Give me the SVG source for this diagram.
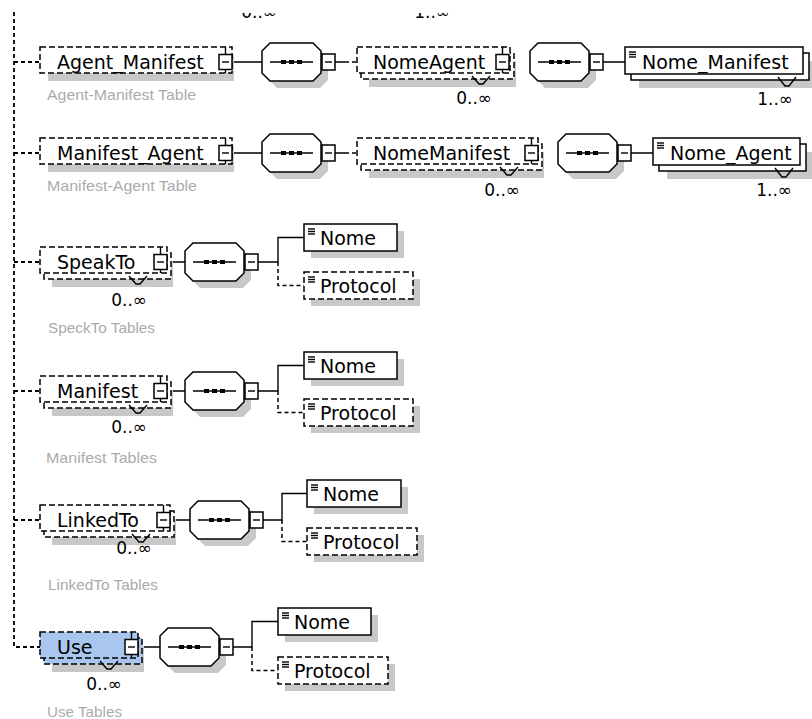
<svg xmlns="http://www.w3.org/2000/svg" xmlns:xlink="http://www.w3.org/1999/xlink" width="812" height="719" viewBox="0 0 812 719">
<style>
  .sh{fill:#c8c8c8}
  .bx{fill:#fff;stroke:#000;stroke-width:1.5}
  .bxd{fill:#fff;stroke:#000;stroke-width:1.5;stroke-dasharray:6 3}
  .sel{fill:#a9c7ee}
  .ln{fill:none;stroke:#000;stroke-width:1.4}
  .lnd{fill:none;stroke:#000;stroke-width:1.5;stroke-dasharray:4 3}
  .trunk{fill:none;stroke:#000;stroke-width:1.8;stroke-dasharray:4 3}
  .lbl{font-family:"DejaVu Sans",Verdana,sans-serif;font-size:19px;fill:#000}
  .mult{font-family:"DejaVu Sans",Verdana,sans-serif;font-size:17px;fill:#000;text-anchor:end}
  .desc{font-family:"Liberation Sans",Arial,sans-serif;font-size:15px;fill:#ababab}
</style>
<defs>
  <!-- sequence compositor with its collapse button, origin at left edge / centre line -->
  <g id="seq">
    <polygon class="sh" points="15,-12 58,-12 66,-4 66,18 58,26 15,26 7,18 7,-4"/>
    <polygon class="bx" points="8,-19 51,-19 59,-11 59,11 51,19 8,19 0,11 0,-11"/>
    <line class="ln" x1="8" y1="0" x2="51" y2="0"/>
    <rect x="19" y="-2" width="5" height="4"/>
    <rect x="27" y="-2" width="5" height="4"/>
    <rect x="35" y="-2" width="5" height="4"/>
    <rect class="bx" x="60" y="-8" width="13" height="16"/>
    <line class="ln" x1="63" y1="0" x2="70" y2="0"/>
  </g>
  <!-- collapse button on an element box -->
  <g id="mb">
    <line class="ln" x1="6.5" y1="-15" x2="6.5" y2="11"/>
    <rect class="bx" x="0" y="-7.5" width="13" height="15"/>
    <line class="ln" x1="3" y1="0" x2="10" y2="0"/>
  </g>
  <!-- simple-content marker -->
  <g id="eq">
    <line class="ln" x1="0" y1="0" x2="7" y2="0" stroke-width="1.2"/>
    <line class="ln" x1="0" y1="2.5" x2="7" y2="2.5" stroke-width="1.2"/>
    <line class="ln" x1="0" y1="5" x2="7" y2="5" stroke-width="1.2"/>
  </g>
  <clipPath id="topcut"><rect x="0" y="13" width="812" height="30"/></clipPath>
</defs>

<!-- connectors -->
<g id="connectors">
  <path class="trunk" d="M14,12 V647 H40"/>
  <path class="trunk" d="M14,62 H40 M14,153 H40 M14,262 H40 M14,391 H40 M14,520 H40"/>
  <!-- row 1 -->
  <path class="ln" d="M232,62 H262 M335,62 H345 M603,62 H625"/>
  <path class="lnd" d="M345,62 H357"/>
  <!-- row 2 -->
  <path class="ln" d="M232,153 H262 M335,153 H345 M631,153 H653"/>
  <path class="lnd" d="M345,153 H357"/>
  <!-- row 3 -->
  <path class="ln" d="M167,262 H185 M258,262 H278 V237.5 H304"/>
  <path class="lnd" d="M278,262 V285.5 H304"/>
  <!-- row 4 -->
  <path class="ln" d="M167,391 H185 M258,391 H278 V365.5 H304"/>
  <path class="lnd" d="M278,391 V412.5 H304"/>
  <!-- row 5 -->
  <path class="ln" d="M170,520 H190 M263,520 H282 V493.5 H307"/>
  <path class="lnd" d="M282,520 V541.5 H307"/>
  <!-- row 6 -->
  <path class="ln" d="M138,647 H160 M233,647 H252 V621.5 H278"/>
  <path class="lnd" d="M252,647 V670.5 H278"/>
</g>

<!-- occurrence labels of the rows above, cut by the top edge -->
<g id="above" clip-path="url(#topcut)">
  <text class="mult" x="277" y="18">0..∞</text>
  <text class="mult" x="450" y="18">1..∞</text>
</g>

<!-- compositors -->
<g id="sequences">
  <use xlink:href="#seq" x="262" y="62"/>
  <use xlink:href="#seq" x="530" y="62"/>
  <use xlink:href="#seq" x="262" y="153"/>
  <use xlink:href="#seq" x="558" y="153"/>
  <use xlink:href="#seq" x="185" y="262"/>
  <use xlink:href="#seq" x="185" y="391"/>
  <use xlink:href="#seq" x="190" y="520"/>
  <use xlink:href="#seq" x="160" y="647"/>
</g>

<!-- row 1 -->
<g id="agent-manifest">
  <rect class="sh" x="48" y="55" width="186" height="26"/>
  <rect class="bxd" x="40" y="47" width="192" height="26"/>
  <use xlink:href="#mb" x="219" y="62"/>
  <text class="lbl" x="57" y="69">Agent_Manifest</text>
  <text class="desc" x="47" y="100" textLength="149" lengthAdjust="spacingAndGlyphs">Agent-Manifest Table</text>
</g>
<g id="nome-agent">
  <rect class="sh" x="369" y="61" width="147" height="26"/>
  <rect class="bxd" x="361" y="53" width="153" height="26"/>
  <rect class="bxd" x="357" y="47" width="153" height="26"/>
  <use xlink:href="#mb" x="496" y="62"/>
  <polyline class="ln" points="472,76 479,84 483,84 490,76"/>
  <text class="lbl" x="373" y="69">NomeAgent</text>
  <text class="mult" x="492" y="104">0..∞</text>
</g>
<g id="nome-manifest-1">
  <rect class="sh" x="639" y="61" width="178" height="27"/>
  <rect class="bx" x="631" y="53" width="178" height="27"/>
  <rect class="bx" x="625" y="47" width="178" height="27"/>
  <polyline class="ln" points="778,77 785,86 789,86 796,77"/>
  <use xlink:href="#eq" x="629" y="52"/>
  <text class="lbl" x="642" y="69">Nome_Manifest</text>
  <text class="mult" x="793" y="105">1..∞</text>
</g>

<!-- row 2 -->
<g id="manifest-agent">
  <rect class="sh" x="48" y="146" width="186" height="26"/>
  <rect class="bxd" x="40" y="138" width="192" height="26"/>
  <use xlink:href="#mb" x="219" y="153"/>
  <text class="lbl" x="57" y="160">Manifest_Agent</text>
  <text class="desc" x="47" y="191" textLength="150" lengthAdjust="spacingAndGlyphs">Manifest-Agent Table</text>
</g>
<g id="nome-manifest-2">
  <rect class="sh" x="369" y="152" width="175" height="26"/>
  <rect class="bxd" x="361" y="144" width="181" height="26"/>
  <rect class="bxd" x="357" y="138" width="181" height="26"/>
  <use xlink:href="#mb" x="525" y="153"/>
  <polyline class="ln" points="500,167 507,175 511,175 518,167"/>
  <text class="lbl" x="373" y="160">NomeManifest</text>
  <text class="mult" x="520" y="196">0..∞</text>
</g>
<g id="nome-agent-2">
  <rect class="sh" x="667" y="152" width="147" height="27"/>
  <rect class="bx" x="659" y="144" width="147" height="27"/>
  <rect class="bx" x="653" y="138" width="147" height="27"/>
  <polyline class="ln" points="775,168 782,177 786,177 793,168"/>
  <use xlink:href="#eq" x="657" y="143"/>
  <text class="lbl" x="670" y="160">Nome_Agent</text>
  <text class="mult" x="792" y="196">1..∞</text>
</g>

<!-- row 3 -->
<g id="speakto">
  <rect class="sh" x="52" y="261" width="121" height="26"/>
  <rect class="bxd" x="44" y="253" width="127" height="26"/>
  <rect class="bxd" x="40" y="247" width="127" height="26"/>
  <use xlink:href="#mb" x="154" y="262"/>
  <polyline class="ln" points="129,276 136,284 140,284 147,276"/>
  <text class="lbl" x="57" y="269">SpeakTo</text>
  <text class="mult" x="147" y="306">0..∞</text>
  <text class="desc" x="48" y="333" textLength="107" lengthAdjust="spacingAndGlyphs">SpeckTo Tables</text>
</g>
<g id="speakto-nome">
  <rect class="sh" x="311" y="231" width="93" height="27"/>
  <rect class="bx" x="304" y="224" width="93" height="27"/>
  <use xlink:href="#eq" x="308" y="229"/>
  <text class="lbl" x="320" y="244.5">Nome</text>
</g>
<g id="speakto-protocol">
  <rect class="sh" x="311" y="279" width="109" height="27"/>
  <rect class="bxd" x="304" y="272" width="109" height="27"/>
  <use xlink:href="#eq" x="308" y="277"/>
  <text class="lbl" x="320" y="292.5">Protocol</text>
</g>

<!-- row 4 -->
<g id="manifest">
  <rect class="sh" x="52" y="390" width="121" height="26"/>
  <rect class="bxd" x="44" y="382" width="127" height="26"/>
  <rect class="bxd" x="40" y="376" width="127" height="26"/>
  <use xlink:href="#mb" x="154" y="391"/>
  <polyline class="ln" points="129,405 136,413 140,413 147,405"/>
  <text class="lbl" x="57" y="398">Manifest</text>
  <text class="mult" x="147" y="433">0..∞</text>
  <text class="desc" x="46" y="463" textLength="111" lengthAdjust="spacingAndGlyphs">Manifest Tables</text>
</g>
<g id="manifest-nome">
  <rect class="sh" x="311" y="359" width="93" height="27"/>
  <rect class="bx" x="304" y="352" width="93" height="27"/>
  <use xlink:href="#eq" x="308" y="357"/>
  <text class="lbl" x="320" y="372.5">Nome</text>
</g>
<g id="manifest-protocol">
  <rect class="sh" x="311" y="406" width="109" height="27"/>
  <rect class="bxd" x="304" y="399" width="109" height="27"/>
  <use xlink:href="#eq" x="308" y="404"/>
  <text class="lbl" x="320" y="419.5">Protocol</text>
</g>

<!-- row 5 -->
<g id="linkedto">
  <rect class="sh" x="52" y="519" width="124" height="26"/>
  <rect class="bxd" x="44" y="511" width="130" height="26"/>
  <rect class="bxd" x="40" y="505" width="130" height="26"/>
  <use xlink:href="#mb" x="157" y="520"/>
  <polyline class="ln" points="132,534 139,542 143,542 150,534"/>
  <text class="lbl" x="57" y="527">LinkedTo</text>
  <text class="mult" x="152" y="554">0..∞</text>
  <text class="desc" x="48" y="590" textLength="110" lengthAdjust="spacingAndGlyphs">LinkedTo Tables</text>
</g>
<g id="linkedto-nome">
  <rect class="sh" x="314" y="487" width="94" height="27"/>
  <rect class="bx" x="307" y="480" width="94" height="27"/>
  <use xlink:href="#eq" x="311" y="485"/>
  <text class="lbl" x="323" y="500.5">Nome</text>
</g>
<g id="linkedto-protocol">
  <rect class="sh" x="314" y="535" width="110" height="27"/>
  <rect class="bxd" x="307" y="528" width="110" height="27"/>
  <use xlink:href="#eq" x="311" y="533"/>
  <text class="lbl" x="323" y="548.5">Protocol</text>
</g>

<!-- row 6 (selected) -->
<g id="use">
  <rect class="sh" x="52" y="646" width="92" height="26"/>
  <rect class="bxd sel" x="44" y="638" width="98" height="26"/>
  <rect class="bxd sel" x="40" y="632" width="98" height="26"/>
  <use xlink:href="#mb" x="125" y="647"/>
  <polyline class="ln" points="100,661 107,669 111,669 118,661"/>
  <text class="lbl" x="57" y="654">Use</text>
  <text class="mult" x="122" y="690">0..∞</text>
  <text class="desc" x="47" y="717" textLength="75" lengthAdjust="spacingAndGlyphs">Use Tables</text>
</g>
<g id="use-nome">
  <rect class="sh" x="285" y="615" width="93" height="27"/>
  <rect class="bx" x="278" y="608" width="93" height="27"/>
  <use xlink:href="#eq" x="282" y="613"/>
  <text class="lbl" x="294" y="628.5">Nome</text>
</g>
<g id="use-protocol">
  <rect class="sh" x="285" y="664" width="110" height="27"/>
  <rect class="bxd" x="278" y="657" width="110" height="27"/>
  <use xlink:href="#eq" x="282" y="662"/>
  <text class="lbl" x="294" y="677.5">Protocol</text>
</g>
</svg>
